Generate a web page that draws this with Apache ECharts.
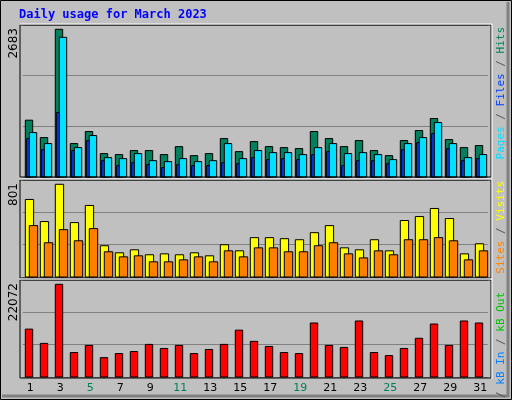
<!DOCTYPE html>
<html><head><meta charset="utf-8">
<script src="https://cdn.jsdelivr.net/npm/echarts@6/dist/echarts.min.js"></script>
<style>html,body{margin:0;padding:0;background:#c0c0c0}#c{width:512px;height:400px}</style>
</head><body><div id="c"></div>
<script>
// Daily usage, March 2023
const days = ["1","2","3","4","5","6","7","8","9","10","11","12","13","14","15","16","17","18","19","20","21","22","23","24","25","26","27","28","29","30","31"];
const weekend = ["4","5","11","12","18","19","25","26"];
const hits  = [1032,716,2683,607,826,425,407,480,480,407,552,388,425,698,461,643,552,534,516,826,698,552,662,480,388,662,844,1062,680,534,571];
const files = [807,607,2537,534,753,352,334,425,297,279,334,279,297,607,334,480,443,443,407,534,607,425,443,407,316,607,716,989,607,352,407];
const pages = [698,498,1172,480,662,297,206,261,225,170,225,206,206,261,243,352,316,334,316,407,461,206,297,297,243,498,625,789,516,297,334];
const visits = [670,479,801,470,618,270,209,235,192,200,192,209,183,279,226,340,340,331,322,383,444,252,235,322,226,488,522,592,505,200,287];
const sites  = [444,296,409,313,418,218,174,183,131,131,148,174,131,226,174,252,252,218,218,270,296,200,165,226,192,322,322,340,313,148,226];
const kbytes = [11400,8004,22072,5821,7519,4608,5579,6064,7762,6791,7519,5579,6549,7762,11157,8489,7277,5821,5579,12855,7519,7034,13340,5821,5094,6791,9217,12613,7519,13340,12855];

const C = { hits: "#00805c", files: "#00e0ff", pages: "#0040ff", visits: "#ffff00", sites: "#ff8000", kb: "#ff0000" };

function barSeries(data, grid, color, x0, x1, z) {
  return {
    type: "custom", xAxisIndex: grid, yAxisIndex: grid, z: z,
    data: data.map(function (v, i) { return [i, v]; }),
    renderItem: function (params, api) {
      const top = api.coord([api.value(0), api.value(1)]);
      const base = api.coord([api.value(0), 0]);
      return { type: "rect",
        shape: { x: top[0] + x0, y: top[1], width: x1 - x0, height: base[1] - top[1] },
        style: { fill: color, stroke: "#000", lineWidth: 1 } };
    }
  };
}

const grids = [
  { left: 22.8, width: 465, top: 25, height: 152 },
  { left: 22.8, width: 465, top: 180, height: 97 },
  { left: 22.8, width: 465, top: 280, height: 97 }
];
const maxes = [2761, 838, 23096];

const xAxes = grids.map(function (g, k) {
  return { type: "category", gridIndex: k, data: days, boundaryGap: true,
    axisLine: { show: false }, axisTick: { show: false },
    axisLabel: k < 2 ? { show: false } : {
      margin: 6, fontSize: 11, fontFamily: "DejaVu Sans",
      color: function (v) { return weekend.indexOf(v) >= 0 ? "#00805c" : "#000"; }
    } };
});
const yAxes = grids.map(function (g, k) {
  return { type: "value", gridIndex: k, min: 0, max: maxes[k], interval: maxes[k] / 3,
    axisLabel: { show: false }, axisLine: { show: false }, axisTick: { show: false },
    splitLine: { lineStyle: { color: "#808080", width: 1 } } };
});

function frame(y, h) {
  return [
    { type: "rect", shape: { x: 20, y: y, width: 471, height: h }, style: { fill: "none", stroke: "#000", lineWidth: 1 }, z: 100 },
    { type: "polyline", shape: { points: [[20, y - 1], [492, y - 1], [492, y + h + 1]] }, style: { fill: "none", stroke: "#fff", lineWidth: 1 }, z: 100 }
  ];
}
function vtext(x, y, text, rich) {
  return { type: "text", x: x, y: y, rotation: Math.PI / 2, z: 100,
    style: { text: text, rich: rich, font: "11px DejaVu Sans Mono", fill: "#555", align: "right", verticalAlign: "middle" } };
}
const mono = function (c) { return { fill: c, font: "11px DejaVu Sans Mono" }; };

const chart = echarts.init(document.getElementById("c"));
chart.setOption({
  animation: false,
  backgroundColor: "#c0c0c0",
  grid: grids,
  xAxis: xAxes,
  yAxis: yAxes,
  graphic: [
    { type: "rect", shape: { x: 0.5, y: 0.5, width: 511, height: 399 }, style: { fill: "none", stroke: "#000", lineWidth: 1 } },
    { type: "polyline", shape: { points: [[2, 396], [508, 396], [508, 2]] }, style: { fill: "none", stroke: "#808080", lineWidth: 3 } },
    { type: "text", x: 19, y: 9, style: { text: "Daily usage for March 2023", font: "bold 12px DejaVu Sans Mono", fill: "#0000ff" } },
    { type: "text", x: 8, y: 28, rotation: Math.PI / 2, style: { text: "2683", font: "12px DejaVu Sans", fill: "#000", align: "right", verticalAlign: "top" } },
    { type: "text", x: 8, y: 183, rotation: Math.PI / 2, style: { text: "801", font: "12px DejaVu Sans", fill: "#000", align: "right", verticalAlign: "top" } },
    { type: "text", x: 8, y: 283, rotation: Math.PI / 2, style: { text: "22072", font: "12px DejaVu Sans", fill: "#000", align: "right", verticalAlign: "top" } },
    vtext(501, 27, "{p|Pages} {s|/} {f|Files} {s|/} {h|Hits}", { p: mono(C.files), f: mono(C.pages), h: mono(C.hits), s: mono("#555") }),
    vtext(501, 181, "{t|Sites} {s|/} {v|Visits}", { t: mono(C.sites), v: mono(C.visits), s: mono("#555") }),
    vtext(501, 292, "{f|kB F} {s|/} {i|kB In} {s|/} {o|kB Out}", { f: mono(C.kb), i: mono("#0080ff"), o: mono("#00c000"), s: mono("#555") })
  ].concat(frame(25, 152), frame(180, 98), frame(280, 98)),
  series: [
    barSeries(hits, 0, C.hits, -5, 2.4, 2),
    barSeries(pages, 0, C.pages, -3.6, -0.6, 3),
    barSeries(files, 0, C.files, -1, 6.4, 4),
    barSeries(visits, 1, C.visits, -5, 3.3, 2),
    barSeries(sites, 1, C.sites, -1, 7.4, 3),
    barSeries(kbytes, 2, C.kb, -5, 2.4, 2)
  ]
});
</script></body></html>
